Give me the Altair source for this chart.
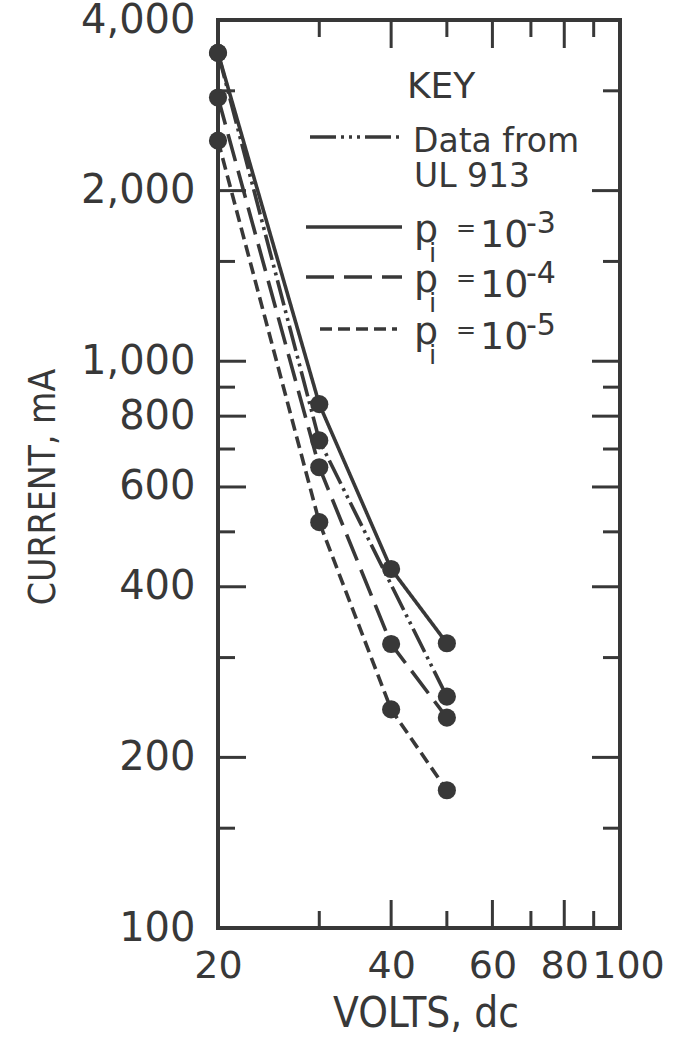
import altair as alt
import pandas as pd

# ---------------- data ----------------
volts = [20, 30, 40, 50]
current_p3 = [3500, 840, 430, 318]
current_p4 = [2920, 650, 317, 235]
current_p5 = [2450, 520, 243, 175]
volts_ul = [20, 30, 50]
current_ul = [3500, 725, 256]

series_names = ["UL 913", "pi = 10-3", "pi = 10-4", "pi = 10-5"]

y_label_values = [100, 200, 400, 600, 800, 1000, 2000, 4000]
x_label_values = [20, 40, 60, 80, 100]
y_major_ticks = [200, 400, 600, 800, 1000, 2000]
y_minor_ticks = [150, 300, 500, 700, 900, 1500, 3000]
x_major_ticks = [40, 60, 80]
x_minor_ticks = [30, 50, 70, 90]

# ---------------- layout / style ----------------
INK = "#383838"
W, H = 402, 908
PAD_L, PAD_T = 218, 20
FONT = "DejaVu Sans"
NARROW = "Liberation Sans Narrow, DejaVu Sans Condensed, Liberation Sans"
DASHES = {
    "UL 913": [26, 5, 3, 5, 3, 5],
    "pi = 10-3": [1, 0],
    "pi = 10-4": [28, 10],
    "pi = 10-5": [12, 6],
}

rows = []
for v, c in zip(volts_ul, current_ul):
    rows.append({"series": series_names[0], "volts": v, "current": c})
for name, vals in zip(series_names[1:], [current_p3, current_p4, current_p5]):
    for v, c in zip(volts, vals):
        rows.append({"series": name, "volts": v, "current": c})
df = pd.DataFrame(rows)

xscale = alt.Scale(type="log", domain=[20, 100], nice=False)
yscale = alt.Scale(type="log", domain=[100, 4000], nice=False)

x_axis = alt.Axis(values=x_label_values, title=None, grid=False, ticks=False,
                  domain=False, labelFont=FONT, labelFontSize=38,
                  labelColor=INK, labelPadding=19, labelOverlap=False,
                  labelBound=False, labelFlush=False, format="d",
                  labelOffset={"condition": {"test": "datum.value == 100", "value": 8},
                               "value": 0})
y_axis = alt.Axis(values=y_label_values, title=None, grid=False, ticks=False,
                  domain=False, labelFont=FONT, labelFontSize=40,
                  labelColor=INK, labelPadding=23, labelOverlap=False,
                  labelBound=False, labelFlush=False, format=",d")

dash_scale = alt.Scale(domain=series_names, range=[DASHES[s] for s in series_names])

lines = alt.Chart(df).mark_line(color=INK, strokeWidth=3.6).encode(
    x=alt.X("volts:Q", scale=xscale, axis=x_axis),
    y=alt.Y("current:Q", scale=yscale, axis=y_axis),
    strokeDash=alt.StrokeDash("series:N", scale=dash_scale, legend=None),
    order="volts:Q",
)

points = alt.Chart(df).mark_circle(color=INK, size=330, opacity=1).encode(
    x=alt.X("volts:Q", scale=xscale, axis=x_axis),
    y=alt.Y("current:Q", scale=yscale, axis=y_axis),
)


def y_ticks(vals, length, left):
    d = pd.DataFrame({"v": vals})
    x0, x1 = (0, length) if left else (W, W - length)
    return alt.Chart(d).mark_rule(color=INK, strokeWidth=3).encode(
        y=alt.Y("v:Q", scale=yscale, axis=y_axis),
        x=alt.value(x0), x2=alt.value(x1))


def x_ticks(vals, length, bottom):
    d = pd.DataFrame({"v": vals})
    y0, y1 = (H, H - length) if bottom else (0, length)
    return alt.Chart(d).mark_rule(color=INK, strokeWidth=3).encode(
        x=alt.X("v:Q", scale=xscale, axis=x_axis),
        y=alt.value(y0), y2=alt.value(y1))


tick_layers = [
    y_ticks(y_major_ticks, 28, True), y_ticks(y_minor_ticks, 17, True),
    y_ticks(y_major_ticks, 28, False), y_ticks(y_minor_ticks, 17, False),
    x_ticks(x_major_ticks, 28, True), x_ticks(x_minor_ticks, 17, True),
    x_ticks(x_major_ticks, 28, False), x_ticks(x_minor_ticks, 17, False),
]


def label(text, x, y, size, font=FONT, angle=0, align="left", baseline="alphabetic"):
    d = pd.DataFrame({"t": [text]})
    return alt.Chart(d).mark_text(font=font, fontSize=size, color=INK, align=align,
                                  baseline=baseline, angle=angle).encode(
        text="t:N", x=alt.value(x), y=alt.value(y))


def key_line(dash, x0, x1, y):
    d = pd.DataFrame({"t": [0]})
    return alt.Chart(d).mark_rule(color=INK, strokeWidth=3.4, strokeDash=dash).encode(
        x=alt.value(x0), x2=alt.value(x1), y=alt.value(y))


key_layers = [
    label("KEY", 189, 78, 36),
    key_line(DASHES["UL 913"] + [3, 5], 92, 182, 117),
    label("Data from", 195, 132, 33),
    label("UL 913", 196, 167, 33),
]
for i, (name, exp) in enumerate(zip(series_names[1:], ["-3", "-4", "-5"])):
    off = [0, 50, 102][i]
    x0 = 102 if i == 2 else 88
    x1 = 179 if i == 2 else 184
    key_layers += [
        key_line(DASHES[name], x0, x1, 207 + off),
        label("p", 196, 222 + off, 38),
        label("i", 211, 242 + off, 26),
        label("=", 238, 216 + off, 24),
        label("10", 262, 227 + off, 38),
        label(exp, 308, 213 + off, 30),
    ]

title_layers = [
    label("CURRENT, mA", -174, 467, 37, font=NARROW, angle=270,
          align="center", baseline="middle"),
    label("VOLTS, dc", 208, 1007, 42, font=NARROW, align="center"),
]

chart = alt.layer(lines, points, *tick_layers, *key_layers, *title_layers).properties(
    width=W, height=H,
    padding={"left": PAD_L, "top": PAD_T, "right": 683 - PAD_L - W,
             "bottom": 1038 - PAD_T - H},
    autosize=alt.AutoSizeParams(type="none"),
    background="white",
).configure_view(stroke=INK, strokeWidth=4)

chart.save("out.html", embed_options={"renderer": "svg", "actions": False})
